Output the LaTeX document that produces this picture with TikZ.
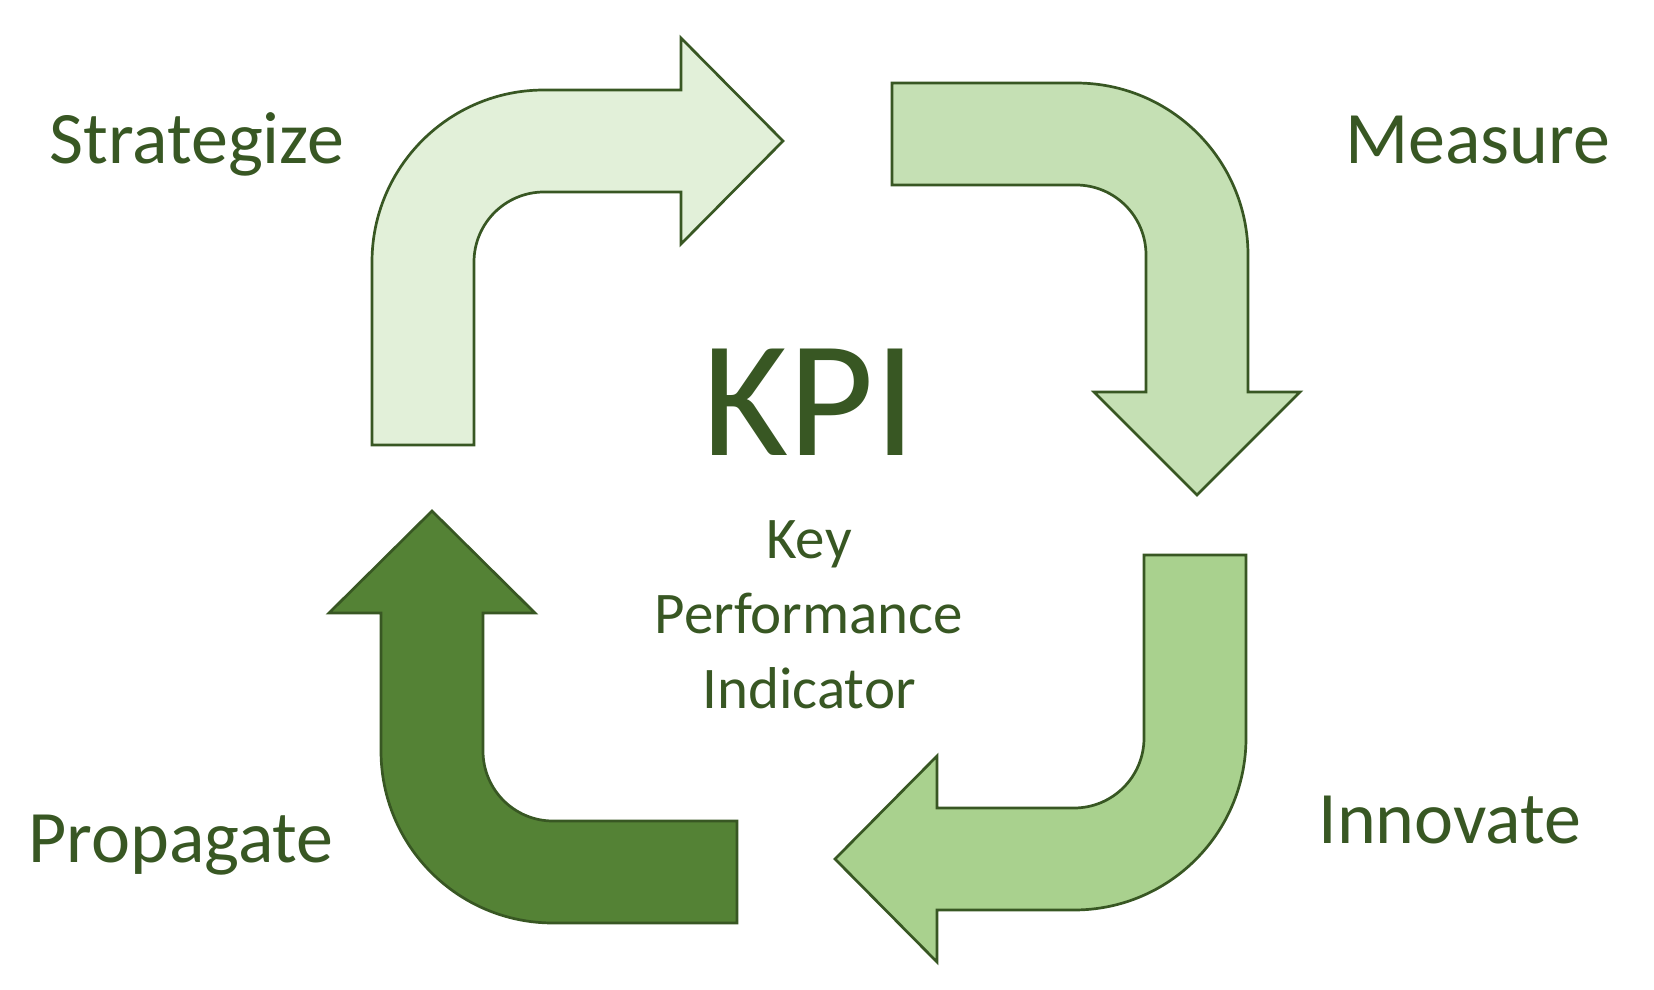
\documentclass[tikz,border=0pt]{standalone}
\usepackage{fontspec}
\setmainfont{Carlito}
\usepackage{tikz}
\usetikzlibrary{positioning}

\definecolor{kpidark}{HTML}{385723}
\definecolor{kpiA}{HTML}{E2F0D9}
\definecolor{kpiB}{HTML}{C5E0B4}
\definecolor{kpiC}{HTML}{A9D18E}
\definecolor{kpiD}{HTML}{548235}

\begin{document}
\begin{tikzpicture}[x=0.5pt,y=-0.5pt,
		bentarrow/.style={draw=kpidark, line width=1.35pt, line join=miter},
		steplabel/.style={text=kpidark, font=\fontsize{37}{44}\selectfont, anchor=base west, inner sep=0pt},
		subline/.style={text=kpidark, font=\fontsize{29.5}{34}\selectfont, anchor=base, inner sep=0pt}]
			\useasboundingbox (0,0) rectangle (1654,990);
			
			% Pfeil oben links
			\draw[bentarrow, fill=kpiA] (372,445) -- (372,262) arc(180:270:172) -- (681,90) -- (681,38)
				-- (783,141) -- (681,244) -- (681,192) -- (544,192) arc(270:180:70) -- (474,445) -- cycle;
			
			% Pfeil oben rechts
			\draw[bentarrow, fill=kpiB] (892,83) -- (1076,83) arc(270:360:172) -- (1248,392) -- (1300,392)
				-- (1197,495) -- (1094,392) -- (1146,392) -- (1146,255) arc(360:270:70) -- (892,185) -- cycle;
			
			% Pfeil unten rechts
			\draw[bentarrow, fill=kpiC] (1144,555) -- (1246,555) -- (1246,738) arc(0:90:172) -- (937,910)
				-- (937,962) -- (835,859) -- (937,756) -- (937,808) -- (1074,808) arc(90:0:70) -- cycle;
			
			% Pfeil unten links
			\draw[bentarrow, fill=kpiD] (737,923) -- (553,923) arc(90:180:172) -- (381,613) -- (329,613)
				-- (432,511) -- (535,613) -- (483,613) -- (483,751) arc(180:90:70) -- (737,821) -- cycle;
			
			% Beschriftungen
			\node[steplabel] (strat) at (49,163) {Strategize};
			\node[steplabel] (meas) at (1345,163) {Measure};
			\node[steplabel] (innov) at (1318,843) {Innovate};
			\node[steplabel] (prop) at (28,862) {Propagate};
			
			% Mitte
			\node[text=kpidark, font=\fontsize{83}{100}\selectfont, anchor=base, inner sep=0pt] (kpi) at (809,455) {KPI};
			\node[subline] (key) at (809,558) {Key};
			\node[subline] (perf) at (809,633) {Performance};
			\node[subline] (ind) at (809,708) {Indicator};
		\end{tikzpicture}
\end{document}
